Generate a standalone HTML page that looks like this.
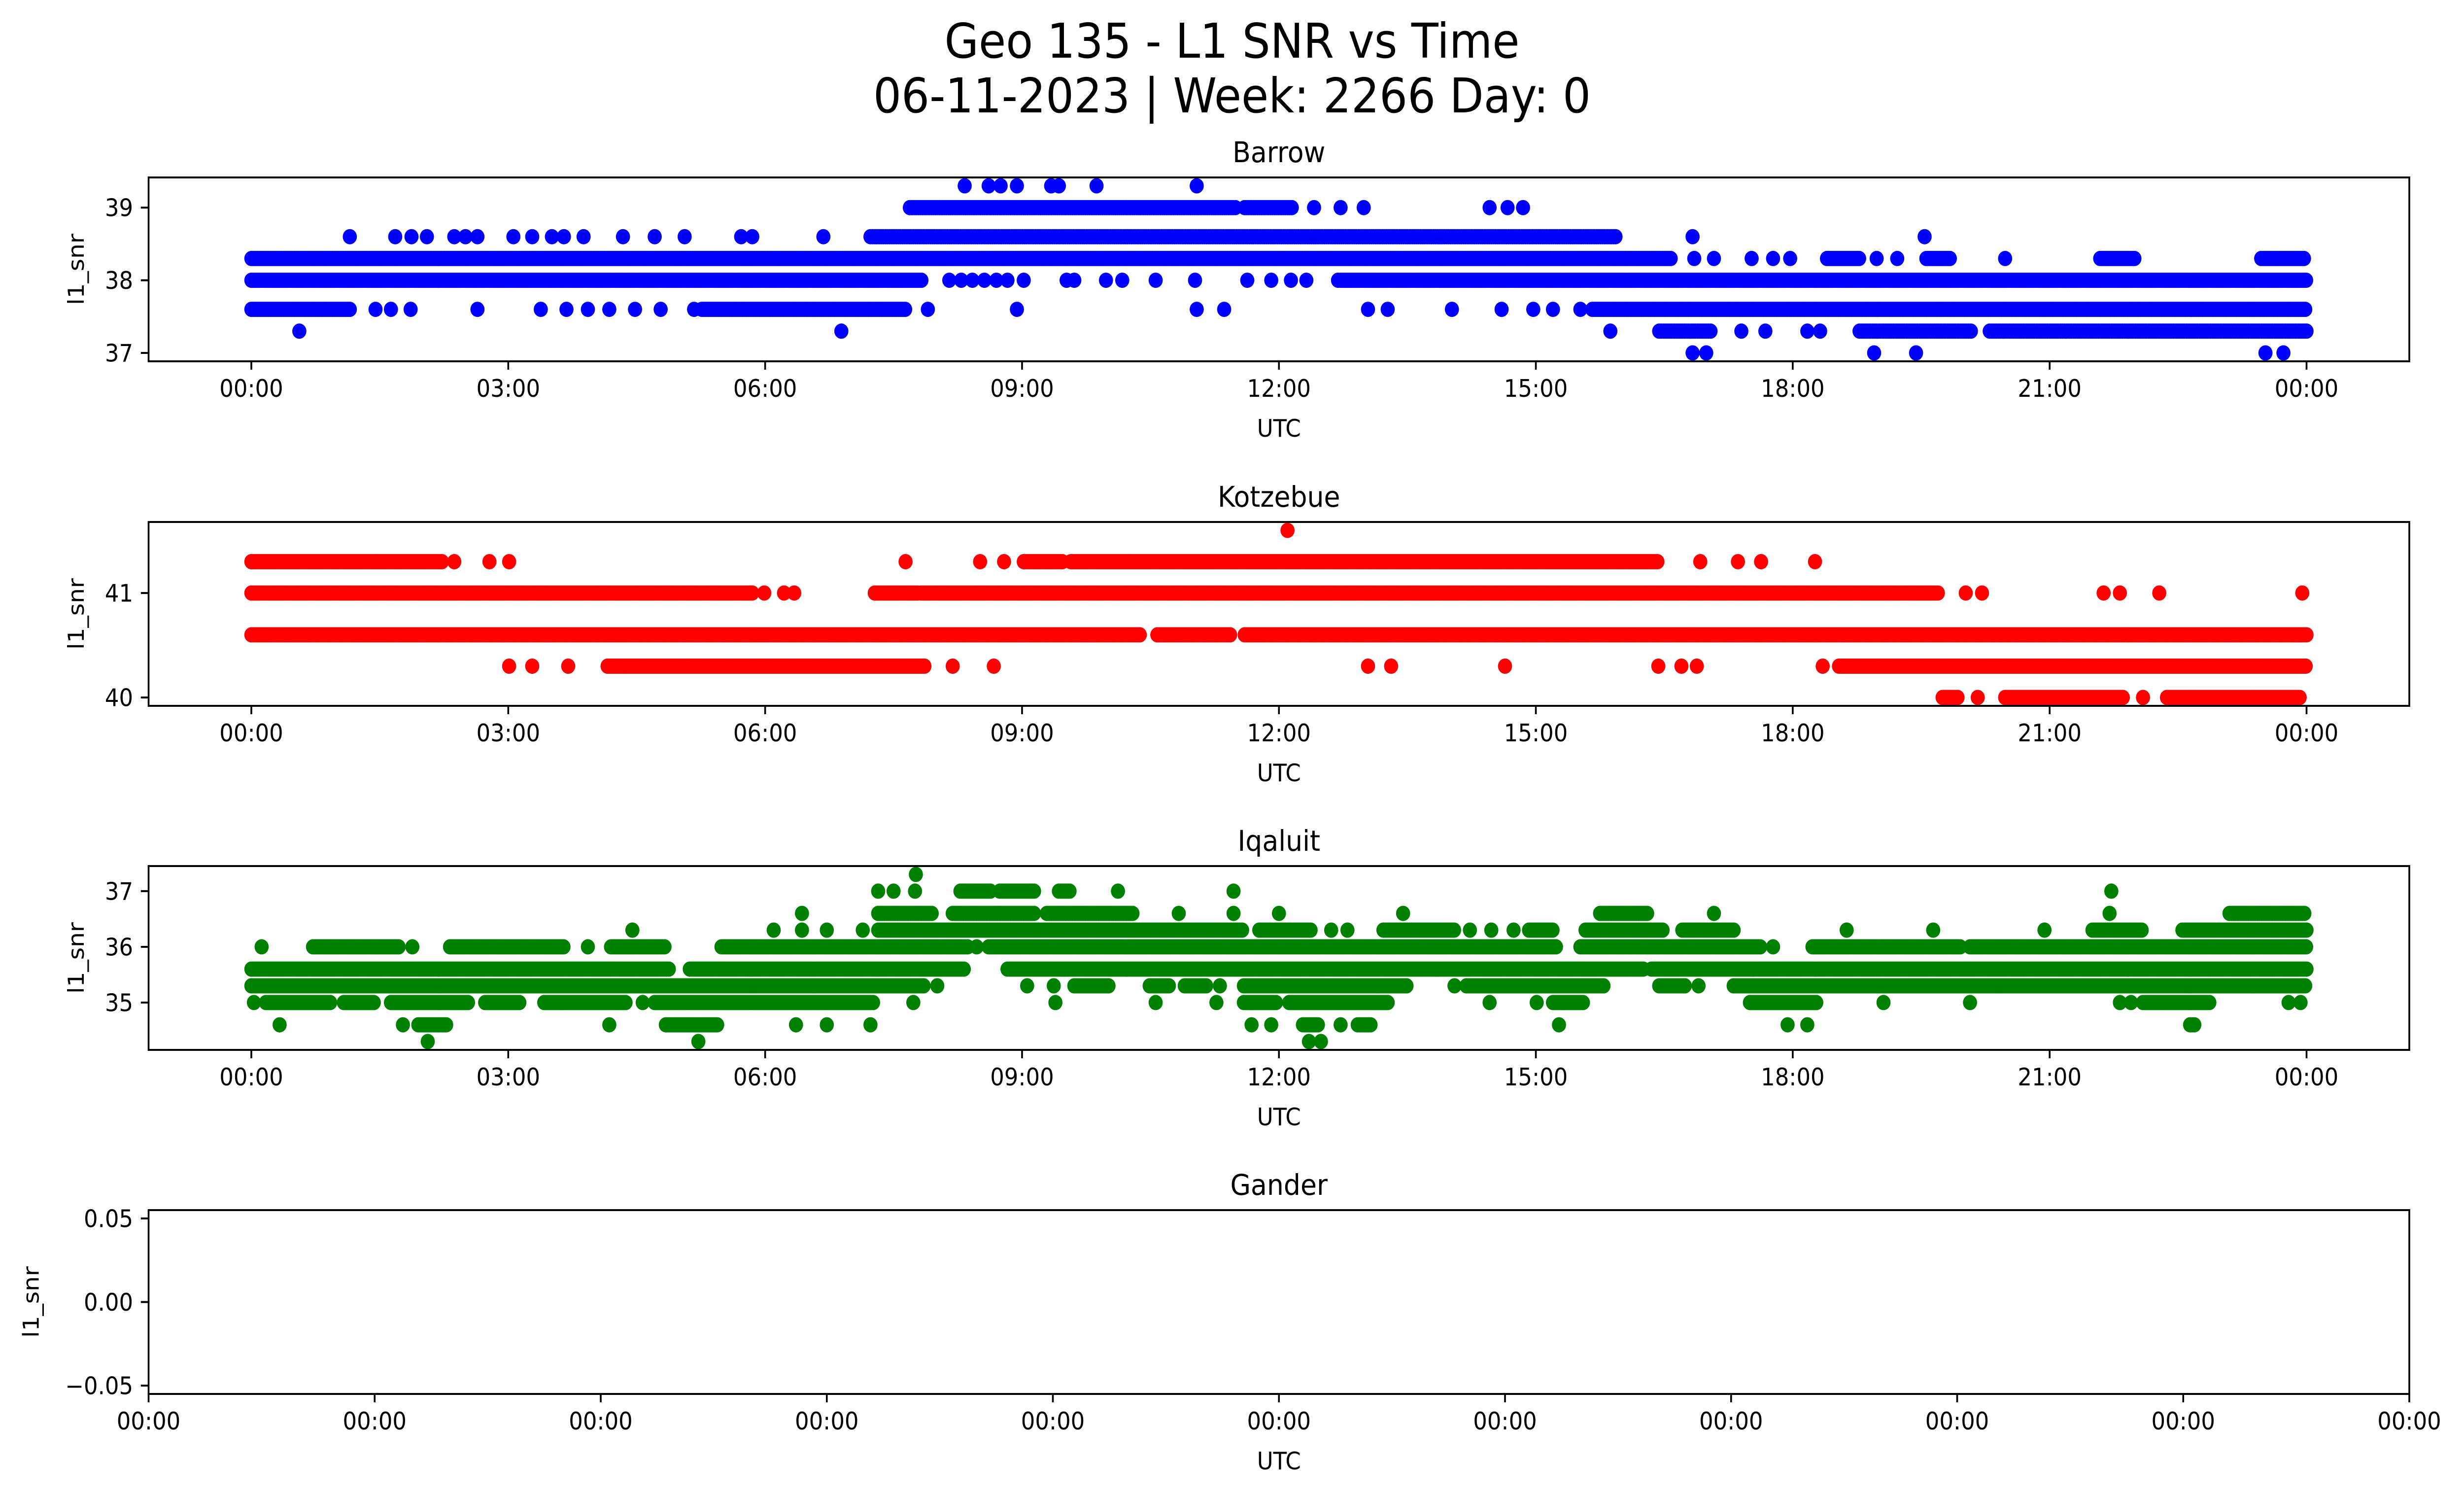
<!DOCTYPE html>
<html><head><meta charset="utf-8"><style>
html,body{margin:0;padding:0;background:#fff;overflow:hidden;width:100vw;height:100vh;}
svg{display:block;width:100vw;height:100vh;}
text{font-family:"DejaVu Sans","Liberation Sans",sans-serif;fill:#000;}
</style></head>
<body>
<svg id="fig" xmlns="http://www.w3.org/2000/svg" viewBox="0 0 5406 3033" preserveAspectRatio="none">
<rect x="0" y="0" width="5406" height="3033" fill="#fff"/>
<text x="2703" y="117" font-size="97" text-anchor="middle">Geo 135 - L1 SNR vs Time</text>
<text x="2703" y="228" font-size="97" text-anchor="middle">06-11-2023 | Week: 2266 Day: 0</text>
<g id="plots"></g>
</svg>
<script>
// ---- data (hours UTC, runs [start,end] or single [t]) ----
const timeTicks = ["00:00","03:00","06:00","09:00","12:00","15:00","18:00","21:00","00:00"];
const stations = ["Barrow","Kotzebue","Iqaluit","Gander"];

const barrowLevels = [39.3, 39.0, 38.6, 38.3, 38.0, 37.6, 37.3, 37.0];
const barrowRuns = [
 [[8.33],[8.61],[8.75],[8.94],[9.34],[9.43],[9.87],[11.04]],
 [[7.69,11.5],[11.6,12.17],[12.41],[12.72],[12.99],[14.46],[14.67],[14.85]],
 [[1.15],[1.68],[1.87],[2.05],[2.37],[2.5],[2.64],[3.06],[3.28],[3.51],[3.65],[3.88],[4.34],[4.71],[5.06],[5.72],[5.85],[6.68],[7.23,15.93],[16.83],[19.54]],
 [[0,16.58],[16.85],[17.08],[17.52],[17.77],[17.97],[18.4,18.78],[18.98],[19.22],[19.56,19.84],[20.48],[21.59,22.0],[23.47,23.98]],
 [[0,7.83],[8.15],[8.29],[8.42],[8.56],[8.7],[8.83],[9.02],[9.52],[9.61],[9.98],[10.17],[10.56],[11.02],[11.63],[11.91],[12.14],[12.32],[12.69],[12.72,24]],
 [[0,1.17],[1.45],[1.63],[1.86],[2.64],[3.38],[3.68],[3.93],[4.18],[4.48],[4.78],[5.17],[5.26,7.64],[7.9],[8.94],[11.04],[11.36],[13.04],[13.27],[14.02],[14.6],[14.97],[15.2],[15.52],[15.66,24]],
 [[0.56],[6.89],[15.87],[16.44,17.04],[17.4],[17.68],[18.17],[18.32],[18.78,20.1],[20.3,24]],
 [[16.83],[16.99],[18.95],[19.44],[23.52],[23.73]]
];
const barrowTicks = [37, 38, 39];

const kotzLevels = [41.6, 41.3, 41.0, 40.6, 40.3, 40.0];
const kotzRuns = [
 [[12.1]],
 [[0,2.23],[2.37],[2.78],[3.01],[7.64],[8.51],[8.79],[9.02,9.48],[9.57,16.44],[16.92],[17.36],[17.63],[18.26]],
 [[0,5.85],[5.99],[6.22],[6.34],[7.28,7.78],[7.82,19.7],[20.02],[20.21],[21.63],[21.82],[22.28],[23.95]],
 [[0,10.39],[10.58,11.45],[11.6,24]],
 [[3.01],[3.28],[3.7],[4.16,7.87],[8.19],[8.67],[13.04],[13.31],[14.64],[16.43],[16.7],[16.88],[18.35],[18.54,24]],
 [[19.75,19.93],[20.16],[20.48,21.86],[22.09],[22.37,23.93]]
];
const kotzTicks = [40, 41];

const iqalLevels = [37.3, 37.0, 36.6, 36.3, 36.0, 35.6, 35.3, 35.0, 34.6, 34.3];
const iqalRuns = [
 [[7.76]],
 [[7.32],[7.5],[7.75],[8.28,8.65],[8.74,9.16],[9.43,9.57],[10.12],[11.47],[21.72]],
 [[6.43],[7.32,7.96],[8.19,9.16],[9.29,10.3],[10.83],[11.47],[12.0],[13.45],[15.75,16.3],[17.08],[21.7],[23.1,23.98]],
 [[4.45],[6.1],[6.43],[6.72],[7.14],[7.32,11.59],[11.77,12.37],[12.61],[12.8],[13.22,14.05],[14.23],[14.48],[14.74],[14.92,15.2],[15.58,16.49],[16.71,17.31],[18.63],[19.64],[20.94],[21.5,22.09],[22.55,24]],
 [[0.12],[0.72,1.72],[1.88],[2.32,3.65],[3.93],[4.2,4.84],[5.49,8.38],[8.47],[8.61,15.24],[15.52,17.63],[17.77],[18.23,19.97],[20.07,24]],
 [[0,4.89],[5.12,8.33],[8.83,16.26],[16.35,24]],
 [[0,7.87],[8.01],[9.06],[9.37],[9.61,10.03],[10.49,10.72],[10.9,11.17],[11.31],[11.59,13.5],[14.05],[14.19,15.8],[16.44,16.76],[16.9],[17.31,24]],
 [[0.03],[0.17,0.94],[1.08,1.45],[1.63,2.55],[2.73,3.15],[3.42,4.39],[4.57],[4.71,7.28],[7.73],[9.39],[10.56],[11.27],[11.59,11.98],[12.12,13.27],[14.46],[15.01],[15.2,15.57],[17.5,18.28],[19.06],[20.07],[21.82],[21.95],[22.09,22.87],[23.79],[23.93]],
 [[0.33],[1.77],[1.95,2.28],[4.18],[4.84,5.44],[6.36],[6.72],[7.23],[11.68],[11.91],[12.28,12.46],[12.72],[12.92,13.08],[15.27],[17.94],[18.17],[22.64,22.69]],
 [[2.06],[5.22],[12.35],[12.49]]
];
const iqalTicks = [35, 36, 37];

const ganderTicks = [0.05, 0.00, -0.05];
const ganderTickLabels = ["0.05","0.00","\u22120.05"];

// ---- layout ----
const NS = "http://www.w3.org/2000/svg";
const L = 326, R = 5286, H = 373;
const tops = [360, 1059, 1757, 2455];
const labelX = [184, 184, 184, 85];
const g = document.getElementById('plots');
function mk(tag, attrs, parent){ const e=document.createElementNS(NS,tag); for(const k in attrs) e.setAttribute(k,attrs[k]); (parent||g).appendChild(e); return e; }
function xScale(h){ return L + (1.2 + h) / 26.4 * (R - L); }
function makeY(top, lo, hi){ const pad=(hi-lo)*0.05; const a=lo-pad, b=hi+pad; return v => top + H - (v - a) / (b - a) * H; }

function drawPanel(i, color, levels, runs, ticks){
  const top = tops[i], bottom = top + H;
  const panel = mk('g', {});
  
  
  const t = mk('text', {x:(L+R)/2, y:top-31, 'font-size':58, 'text-anchor':'middle'}, panel);
  t.textContent = stations[i];
  
  
  const lx = labelX[i];
  const lbl = mk('text', {x:lx, y:top+H/2, 'font-size':48.6, 'text-anchor':'middle', transform:`rotate(-90 ${lx} ${top+H/2})`}, panel);
  lbl.textContent = 'l1_snr';
  
  
  const ux = mk('text', {x:(L+R)/2, y:bottom+153, 'font-size':48.6, 'text-anchor':'middle'}, panel);
  ux.textContent = 'UTC';
  
  

  if (levels) {
    const y = makeY(top, Math.min(...levels), Math.max(...levels));
    const pts = mk('g', {fill: color}, panel);
    
    
    levels.forEach((lv, li) => {
      runs[li].forEach(run => {
        const s = run[0], e = run.length > 1 ? run[1] : run[0];
        for (let h = s; h <= e + 1e-9; h += 0.025) {
          const c = mk('circle', {cx: xScale(h).toFixed(1), cy: y(lv).toFixed(1), r: 15.5}, pts);
          
          
        }
      });
    });
    ticks.forEach(v => {
      const yy = y(v);
      mk('line', {x1:L-17, x2:L, y1:yy, y2:yy, stroke:'#000', 'stroke-width':3.9}, panel);
      const tl = mk('text', {x:292, y:yy+17.5, 'font-size':48.6, 'text-anchor':'end'}, panel);
      tl.textContent = String(v);
      
      
    });
    timeTicks.forEach((lab, k) => {
      const xx = xScale(k*3);
      mk('line', {x1:xx, x2:xx, y1:bottom, y2:bottom+17, stroke:'#000', 'stroke-width':3.9}, panel);
      const tl = mk('text', {x:xx, y:bottom+72, 'font-size':48.6, 'text-anchor':'middle'}, panel);
      tl.textContent = lab;
      
      
    });
  } else {
    const y = v => top + H/2 - v / 0.11 * H;
    ganderTicks.forEach((v, k) => {
      const yy = y(v);
      mk('line', {x1:L-17, x2:L, y1:yy, y2:yy, stroke:'#000', 'stroke-width':3.9}, panel);
      const tl = mk('text', {x:292, y:yy+17.5, 'font-size':48.6, 'text-anchor':'end'}, panel);
      tl.textContent = ganderTickLabels[k];
      
      
    });
    for (let k = 0; k <= 10; k++) {
      const xx = L + k * (R - L) / 10;
      mk('line', {x1:xx, x2:xx, y1:bottom, y2:bottom+17, stroke:'#000', 'stroke-width':3.9}, panel);
      const tl = mk('text', {x:xx, y:bottom+72, 'font-size':48.6, 'text-anchor':'middle'}, panel);
      tl.textContent = '00:00';
      
      
    }
  }
  const fr = mk('rect', {x:L, y:top, width:R-L, height:H, fill:'none', stroke:'#000', 'stroke-width':3.9}, panel);
  
  
}

drawPanel(0, '#0000ff', barrowLevels, barrowRuns, barrowTicks);
drawPanel(1, '#ff0000', kotzLevels, kotzRuns, kotzTicks);
drawPanel(2, '#008000', iqalLevels, iqalRuns, iqalTicks);
drawPanel(3, null, null, null, null);
</script>
</body></html>
